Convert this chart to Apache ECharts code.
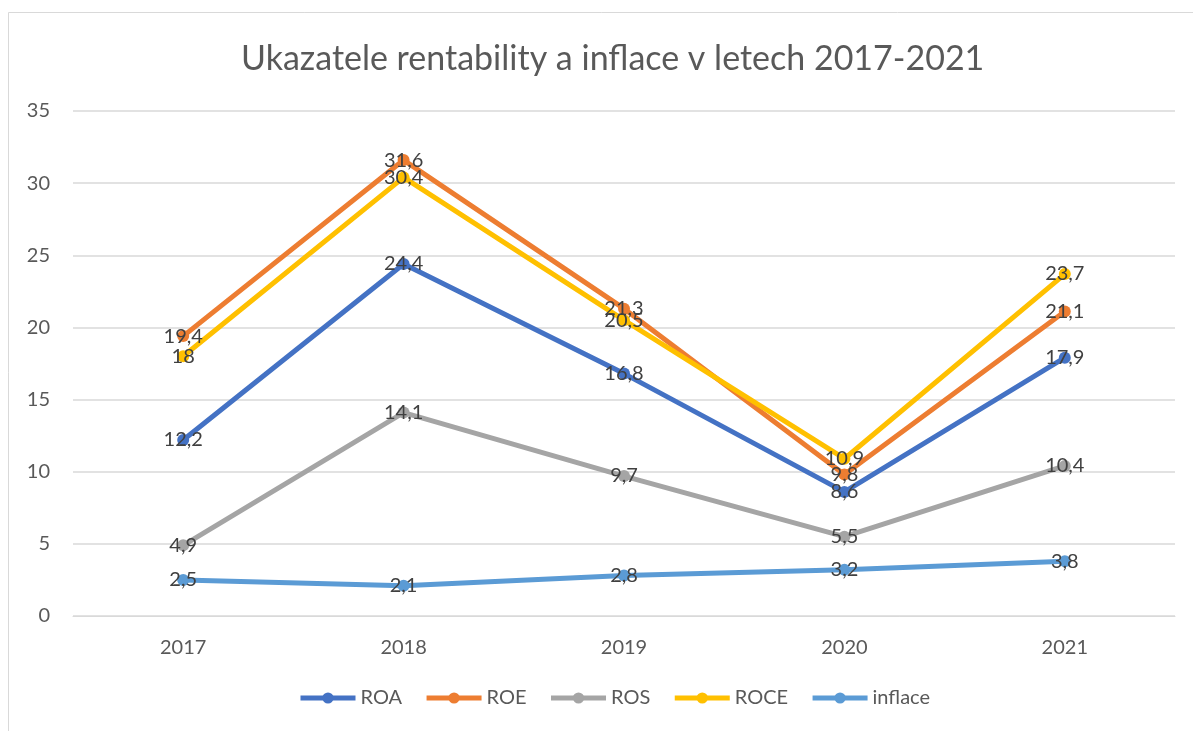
<!DOCTYPE html>
<html><head><meta charset="utf-8">
<script src="https://cdn.jsdelivr.net/npm/echarts@6/dist/echarts.min.js"></script>
<style>html,body{margin:0;padding:0;background:#fff}#c{width:1193px;height:731px}</style>
</head><body><div id="c"></div>
<script>
const categories = ['2017','2018','2019','2020','2021'];
const ROA = [12.2, 24.4, 16.8, 8.6, 17.9];
const ROE = [19.4, 31.6, 21.3, 9.8, 21.1];
const ROS = [4.9, 14.1, 9.7, 5.5, 10.4];
const ROCE = [18, 30.4, 20.5, 10.9, 23.7];
const inflace = [2.5, 2.1, 2.8, 3.2, 3.8];
const yTicks = [0, 5, 10, 15, 20, 25, 30, 35];

const FONT = 'Lato, "Open Sans", sans-serif';
const chart = echarts.init(document.getElementById('c'));
function mk(name, data, color) {
  return {
    name, type: 'line', data,
    symbol: 'circle', symbolSize: 12,
    lineStyle: { width: 5, color },
    itemStyle: { color },
    label: {
      show: true, position: 'inside', color: '#404040',
      fontFamily: FONT, fontSize: 20,
      formatter: p => String(p.value).replace('.', ',')
    },
    emphasis: { disabled: true },
    animation: false
  };
}
chart.setOption({
  backgroundColor: '#fff',
  animation: false,
  graphic: [{ type: 'rect', shape: { x: 8.5, y: 12.5, width: 1200, height: 740 },
    style: { fill: 'none', stroke: '#D9D9D9', lineWidth: 1 }, silent: true }],
  title: {
    text: 'Ukazatele rentability a inflace v letech 2017-2021',
    left: 236, top: 37,
    textStyle: { fontFamily: FONT, fontSize: 34, fontWeight: 'normal', color: '#595959' }
  },
  legend: {
    bottom: 18, left: 293, itemWidth: 55, itemHeight: 14, itemGap: 22,
    textStyle: { fontFamily: FONT, fontSize: 20, color: '#595959' },
    lineStyle: { width: 5 },
    data: ['ROA','ROE','ROS','ROCE','inflace']
  },
  grid: { left: 73, right: 18, top: 111, bottom: 115, containLabel: false },
  xAxis: {
    type: 'category', data: categories, boundaryGap: true,
    axisLine: { show: true, lineStyle: { color: '#D9D9D9', width: 1 } },
    axisTick: { show: false },
    axisLabel: { fontFamily: FONT, fontSize: 20, color: '#595959', margin: 22 }
  },
  yAxis: {
    type: 'value', min: yTicks[0], max: yTicks[yTicks.length-1], interval: 5,
    axisLine: { show: false }, axisTick: { show: false },
    splitLine: { lineStyle: { color: '#D9D9D9', width: 1.5 } },
    axisLabel: { fontFamily: FONT, fontSize: 20, color: '#595959', margin: 23 }
  },
  series: [
    mk('ROA', ROA, '#4472C4'),
    mk('ROE', ROE, '#ED7D31'),
    mk('ROS', ROS, '#A5A5A5'),
    mk('ROCE', ROCE, '#FFC000'),
    mk('inflace', inflace, '#5B9BD5')
  ]
});
</script></body></html>
